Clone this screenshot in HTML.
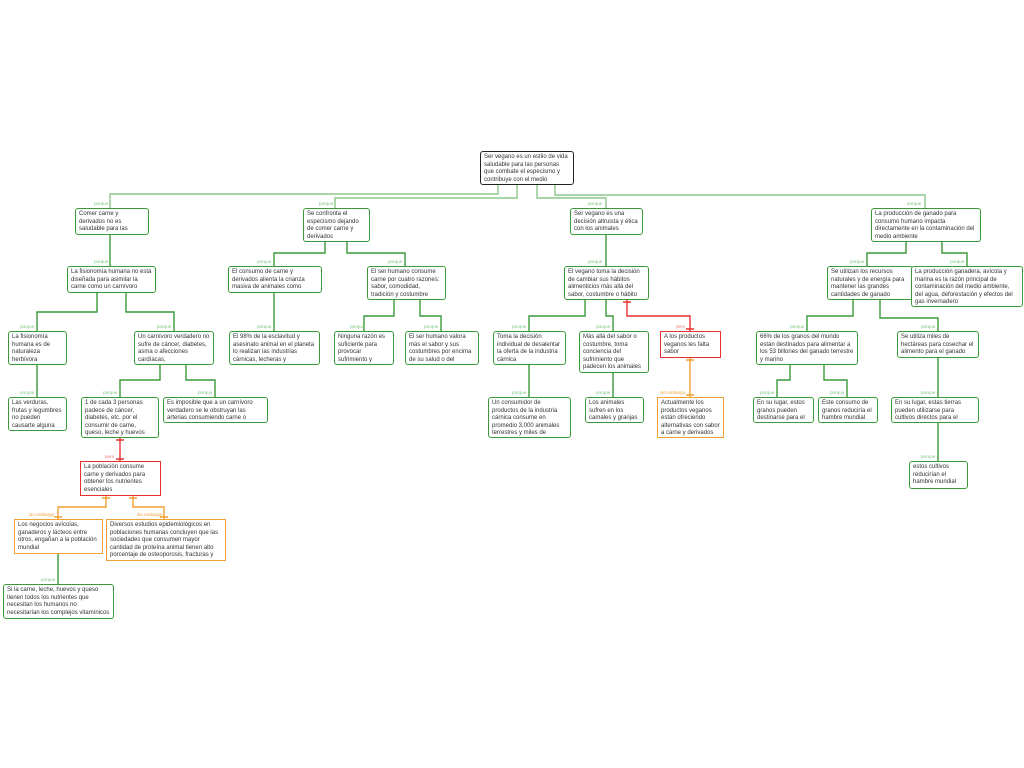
<!DOCTYPE html>
<html><head><meta charset="utf-8">
<style>
html,body{margin:0;padding:0;background:#fff;}
body{width:1024px;height:768px;position:relative;overflow:hidden;font-family:"Liberation Sans",Arial,sans-serif;}
.n{position:absolute;box-sizing:border-box;border:1.5px solid #3a9a3a;border-radius:3px;background:#fff;font-size:6px;line-height:7.6px;color:#333;padding:2px 3px 1px 3px;overflow:hidden;}
.r{border-color:#e83030;border-radius:0;}
.o{border-color:#f0a030;border-radius:0;}
.k{border-color:#222;}
.l{position:absolute;font-size:4.6px;color:#7fc47f;}
.lr{color:#ee7777;} .lo{color:#f0a030;}
svg{position:absolute;left:0;top:0;}
</style></head><body>
<svg width="1024" height="768" fill="none" stroke-width="1.4">
<g stroke="#8cc98c">
<path d="M498 184V194H110V208"/>
<path d="M517 184V198H335V208"/>
<path d="M537 184V198H606V208"/>
<path d="M555 184V195H925V208"/>
</g>
<g stroke="#3a9a3a">
<path d="M110 235V266"/>
<path d="M325 242V253H274V266"/>
<path d="M347 242V253H405V266"/>
<path d="M606 235V266"/>
<path d="M906 242V253H867V266"/>
<path d="M942 242V253H967V266"/>
<path d="M97 292V312H37V331"/>
<path d="M126 292V312H174V331"/>
<path d="M274 292V331"/>
<path d="M394 299V316H364V331"/>
<path d="M420 299V316H441V331"/>
<path d="M585 299V316H529V331"/>
<path d="M606 299V316H613V331"/>
<path d="M853 299V316H807V331"/>
<path d="M880 299V318H938V331"/>
<path d="M37 364V397"/>
<path d="M160 364V380H120V397"/>
<path d="M186 364V380H215V397"/>
<path d="M529 364V397"/>
<path d="M613 372V397"/>
<path d="M790 364V380H777V397"/>
<path d="M824 364V380H847V397"/>
<path d="M938 357V397"/>
<path d="M938 422V461"/>
<path d="M58 553V584"/>
</g>
<g stroke="#e83030">
<path d="M627 299V316H690V331"/>
<path d="M623 302H631M686 329H694"/>
<path d="M120 437V461"/>
<path d="M116 440H124M116 459H124"/>
</g>
<g stroke="#f0a030">
<path d="M690 357V397"/>
<path d="M686 360H694M686 395H694"/>
<path d="M106 495V507H58V519"/>
<path d="M133 495V507H164V519"/>
<path d="M102 498H110M129 498H137M54 517H62M160 517H168"/>
</g>
</svg>

<div class="n k" style="left:480px;top:151px;width:94px;height:34px">Ser vegano es un estilo de vida saludable para las personas que combate el especismo y contribuye con el medio ambiente</div>

<div class="l" style="left:94px;top:201px">porque</div>
<div class="n" style="left:75px;top:208px;width:74px;height:27px">Comer carne y derivados no es saludable para las personas</div>
<div class="l" style="left:319px;top:201px">porque</div>
<div class="n" style="left:303px;top:208px;width:67px;height:34px">Se confronta el especismo dejando de comer carne y derivados</div>
<div class="l" style="left:588px;top:201px">porque</div>
<div class="n" style="left:570px;top:208px;width:73px;height:27px">Ser vegano es una decisión altruista y ética con los animales</div>
<div class="l" style="left:907px;top:201px">porque</div>
<div class="n" style="left:871px;top:208px;width:110px;height:34px">La producción de ganado para consumo humano impacta directamente en la contaminación del medio ambiente</div>

<div class="l" style="left:94px;top:259px">porque</div>
<div class="n" style="left:67px;top:266px;width:89px;height:27px">La fisionomía humana no está diseñada para asimilar la carne como un carnívoro verdadero</div>
<div class="l" style="left:257px;top:259px">porque</div>
<div class="n" style="left:228px;top:266px;width:94px;height:27px">El consumo de carne y derivados alienta la crianza masiva de animales como ganado</div>
<div class="l" style="left:388px;top:259px">porque</div>
<div class="n" style="left:367px;top:266px;width:79px;height:34px">El ser humano consume carne por cuatro razones: sabor, comodidad, tradición y costumbre</div>
<div class="l" style="left:588px;top:259px">porque</div>
<div class="n" style="left:564px;top:266px;width:85px;height:34px">El vegano toma la decisión de cambiar sus hábitos alimenticios más allá del sabor, costumbre o hábito</div>
<div class="l" style="left:850px;top:259px">porque</div>
<div class="n" style="left:827px;top:266px;width:86px;height:34px">Se utilizan los recursos naturales y de energía para mantener las grandes cantidades de ganado</div>
<div class="l" style="left:950px;top:259px">porque</div>
<div class="n" style="left:911px;top:266px;width:112px;height:41px">La producción ganadera, avícola y marina es la razón principal de contaminación del medio ambiente, del agua, deforestación y efectos del gas invernadero</div>

<div class="l" style="left:20px;top:324px">porque</div>
<div class="n" style="left:8px;top:331px;width:59px;height:34px">La fisionomía humana es de naturaleza herbívora</div>
<div class="l" style="left:157px;top:324px">porque</div>
<div class="n" style="left:134px;top:331px;width:80px;height:34px">Un carnívoro verdadero no sufre de cáncer, diabetes, asma o afecciones cardíacas,</div>
<div class="l" style="left:257px;top:324px">porque</div>
<div class="n" style="left:229px;top:331px;width:91px;height:34px">El 98% de la esclavitud y asesinato animal en el planeta lo realizan las industrias cárnicas, lecheras y productoras de huevo</div>
<div class="l" style="left:350px;top:324px">porque</div>
<div class="n" style="left:334px;top:331px;width:60px;height:34px">Ninguna razón es suficiente para provocar sufrimiento y muerte a los animales</div>
<div class="l" style="left:424px;top:324px">porque</div>
<div class="n" style="left:405px;top:331px;width:74px;height:34px">El ser humano valora más el sabor y sus costumbres por encima de su salud o del respeto animal</div>
<div class="l" style="left:512px;top:324px">porque</div>
<div class="n" style="left:493px;top:331px;width:73px;height:34px">Toma la decisión individual de desalentar la oferta de la industria cárnica</div>
<div class="l" style="left:596px;top:324px">porque</div>
<div class="n" style="left:579px;top:331px;width:70px;height:42px">Más allá del sabor o costumbre, toma conciencia del sufrimiento que padecen los animales</div>
<div class="l lr" style="left:676px;top:324px">pero</div>
<div class="n r" style="left:660px;top:331px;width:61px;height:27px">A los productos veganos les falta sabor</div>
<div class="l" style="left:790px;top:324px">porque</div>
<div class="n" style="left:756px;top:331px;width:102px;height:34px">66% de los granos del mundo están destinados para alimentar a los 53 billones del ganado terrestre y marino</div>
<div class="l" style="left:921px;top:324px">porque</div>
<div class="n" style="left:897px;top:331px;width:82px;height:27px">Se utiliza miles de hectáreas para cosechar el alimento para el ganado</div>

<div class="l" style="left:20px;top:390px">porque</div>
<div class="n" style="left:8px;top:397px;width:59px;height:34px">Las verduras, frutas y legumbres no pueden causarte alguna enfermedad</div>
<div class="l" style="left:103px;top:390px">porque</div>
<div class="n" style="left:81px;top:397px;width:78px;height:41px">1 de cada 3 personas padece de cáncer, diabetes, etc. por el consumir de carne, queso, leche y huevos</div>
<div class="l" style="left:198px;top:390px">porque</div>
<div class="n" style="left:163px;top:397px;width:105px;height:26px">Es imposible que a un carnívoro verdadero se le obstruyan las arterias consumiendo carne o derivados</div>
<div class="l" style="left:512px;top:390px">porque</div>
<div class="n" style="left:488px;top:397px;width:83px;height:41px">Un consumidor de productos de la industria cárnica consume en promedio 3,000 animales terrestres y miles de animales marinos</div>
<div class="l" style="left:596px;top:390px">porque</div>
<div class="n" style="left:585px;top:397px;width:59px;height:26px">Los animales sufren en los camales y granjas</div>
<div class="l lo" style="left:660px;top:390px">sin embargo</div>
<div class="n o" style="left:657px;top:397px;width:67px;height:41px">Actualmente los productos veganos están ofreciendo alternativas con sabor a carne y derivados</div>
<div class="l" style="left:760px;top:390px">porque</div>
<div class="n" style="left:753px;top:397px;width:61px;height:26px">En su lugar, estos granos pueden destinarse para el consumo humano directo</div>
<div class="l" style="left:830px;top:390px">porque</div>
<div class="n" style="left:818px;top:397px;width:60px;height:26px">Este consumo de granos reduciría el hambre mundial</div>
<div class="l" style="left:921px;top:390px">porque</div>
<div class="n" style="left:891px;top:397px;width:88px;height:26px">En su lugar, estas tierras pueden utilizarse para cultivos directos para el consumo humano</div>

<div class="l lr" style="left:105px;top:454px">pero</div>
<div class="n r" style="left:80px;top:461px;width:81px;height:35px">La población consume carne y derivados para obtener los nutrientes esenciales</div>
<div class="l" style="left:921px;top:454px">porque</div>
<div class="n" style="left:909px;top:461px;width:59px;height:28px">estos cultivos reducirían el hambre mundial</div>

<div class="l lo" style="left:29px;top:512px">sin embargo</div>
<div class="n o" style="left:14px;top:519px;width:89px;height:35px">Los negocios avícolas, ganaderos y lácteos entre otros, engañan a la población mundial</div>
<div class="l lo" style="left:137px;top:512px">sin embargo</div>
<div class="n o" style="left:106px;top:519px;width:120px;height:42px">Diversos estudios epidemiológicos en poblaciones humanas concluyen que las sociedades que consumen mayor cantidad de proteína animal tienen alto porcentaje de osteoporosis, fracturas y cáncer</div>

<div class="l" style="left:41px;top:577px">porque</div>
<div class="n" style="left:3px;top:584px;width:111px;height:35px">Si la carne, leche, huevos y queso tienen todos los nutrientes que necesitan los humanos no necesitarían los complejos vitamínicos</div>
</body></html>
